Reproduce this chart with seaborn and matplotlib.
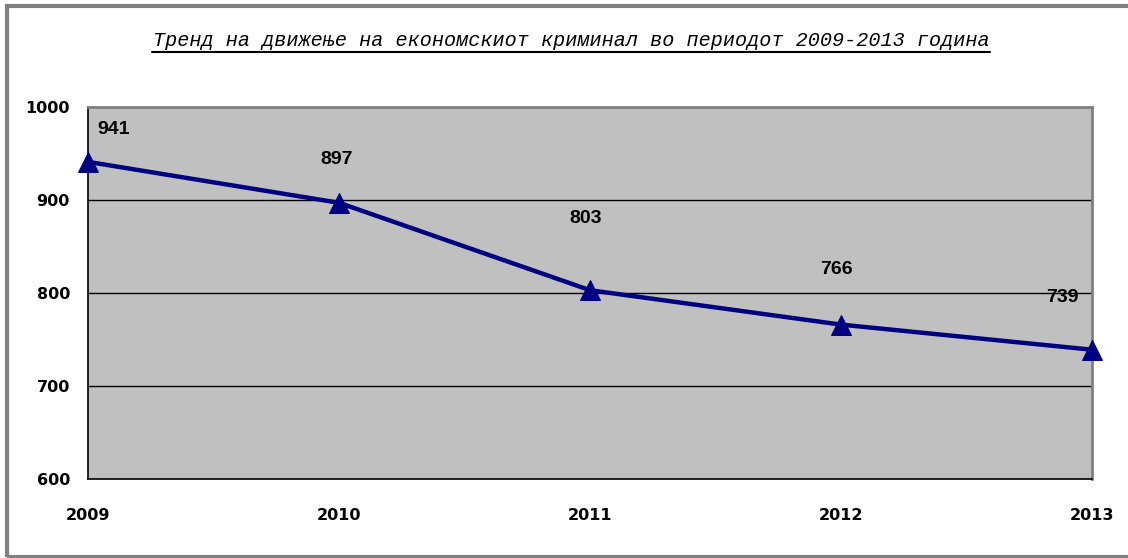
import matplotlib
matplotlib.use("Agg")
import matplotlib.pyplot as plt
from matplotlib.patches import Rectangle
from matplotlib.lines import Line2D
import seaborn as sns
import pandas as pd

# Economic crime trend, 2009-2013
years = [2009, 2010, 2011, 2012, 2013]
cases = [941, 897, 803, 766, 739]
y_ticks = [600, 700, 800, 900, 1000]
title = "Тренд на движење на економскиот криминал во периодот 2009-2013 година"

# label placement (pixel offsets from each point)
label_offsets = [(26, 32), (-2, 43), (-4, 72), (-5, 55), (-30, 52)]

df = pd.DataFrame({"year": years, "cases": cases})

sns.set_style("white")
plt.rcParams["font.family"] = ["DejaVu Sans"]
plt.rcParams["text.color"] = "black"
plt.rcParams["xtick.color"] = "black"
plt.rcParams["ytick.color"] = "black"

W, H, DPI = 1128, 558, 100
fig = plt.figure(figsize=(W / DPI, H / DPI), dpi=DPI)
fig.patch.set_facecolor("white")

# outer chart frame
fig.add_artist(Rectangle((6.5 / W, 1 - 556.5 / H), (W + 10) / W, (556.5 - 5.5) / H,
                         transform=fig.transFigure, fill=False,
                         edgecolor="#808080", linewidth=3))

ax = fig.add_axes([88 / W, 1 - 479 / H, (1092 - 88) / W, (479 - 107) / H])
ax.set_facecolor("#C0C0C0")

sns.lineplot(data=df, x="year", y="cases", ax=ax, color="#000080",
             linewidth=3.2, marker="^", markersize=15,
             markeredgecolor="#000080", clip_on=False, zorder=5)

for (yr, val), (dx, dy) in zip(zip(years, cases), label_offsets):
    ax.annotate(str(val), (yr, val), xytext=(dx, dy), textcoords="offset pixels",
                ha="center", va="center", fontsize=14, fontweight="bold",
                family="Liberation Sans", color="black", zorder=6)

ax.set_xlim(years[0], years[-1])
ax.set_ylim(y_ticks[0], y_ticks[-1])
ax.set_xticks(years)
ax.set_yticks(y_ticks)
ax.set_xticklabels([str(y) for y in years])
ax.set_yticklabels([str(v) for v in y_ticks])
ax.set_xlabel("")
ax.set_ylabel("")

for v in y_ticks[1:-1]:
    ax.axhline(v, color="black", linewidth=1, zorder=1)

ax.tick_params(axis="both", direction="out", length=6, width=1, color="black",
               labelcolor="black", labelsize=11.5)
ax.tick_params(axis="y", pad=7)
ax.tick_params(axis="x", pad=15)
for lab in ax.get_xticklabels() + ax.get_yticklabels():
    lab.set_fontweight("bold")

ax.spines["left"].set_color("black")
ax.spines["bottom"].set_color("black")
ax.spines["left"].set_linewidth(1.2)
ax.spines["bottom"].set_linewidth(1.2)
ax.spines["top"].set_color("#808080")
ax.spines["right"].set_color("#808080")
ax.spines["top"].set_linewidth(2)
ax.spines["right"].set_linewidth(2)

# underlined italic title
fig.text(571 / W, 1 - 40 / H, title, ha="center", va="center",
         fontsize=14.5, style="italic", family="Liberation Mono", color="black")
fig.add_artist(Line2D([152 / W, 990 / W], [1 - 52 / H, 1 - 52 / H],
                      transform=fig.transFigure, color="black", linewidth=1.5))

fig.savefig("out.png", dpi=DPI, facecolor="white")
